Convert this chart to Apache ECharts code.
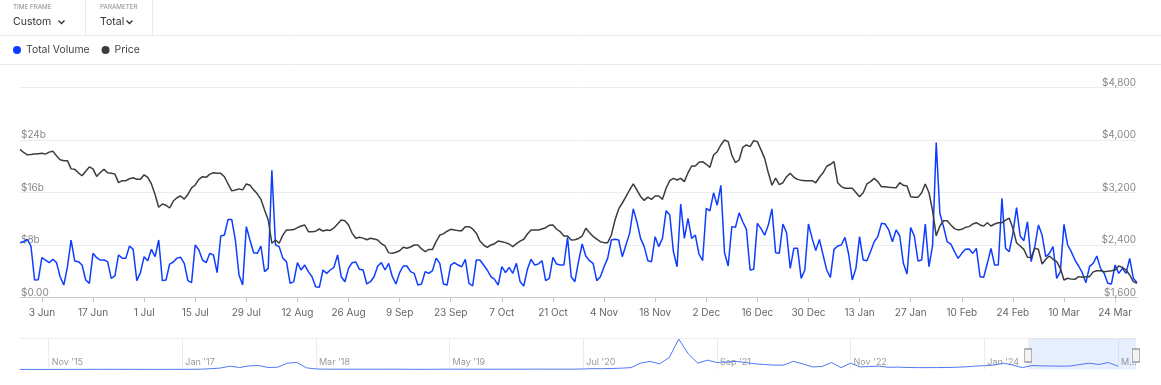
<!DOCTYPE html>
<html>
<head>
<meta charset="utf-8">
<script src="https://cdn.jsdelivr.net/npm/echarts/dist/echarts.min.js"></script>
<style>
html,body{margin:0;padding:0;background:#fff;}
#c{width:1161px;height:385px;}
</style>
</head>
<body>
<div id="c"></div>
<script>
// ---- Data (daily, from 28 May 2024) ----
const startDate = [2024, 4, 28];
const monthNames = ['Jan','Feb','Mar','Apr','May','Jun','Jul','Aug','Sep','Oct','Nov','Dec'];

// Total Volume, $ billions
const volume = [
8.35,8.5,8.87,7.85,2.67,2.7,6.07,5.71,5.31,5.82,
5.31,3.17,1.9,4.69,8.76,5.56,5.46,4.95,2.67,2.16,
6.73,6.07,5.71,5.71,5.46,2.92,3.28,6.48,6.0,6.0,
7.85,7.34,2.57,3.79,6.22,5.61,7.34,6.22,8.76,2.57,
2.67,5.1,5.41,6.0,6.12,5.2,2.57,2.26,8.0,7.24,
5.71,5.31,6.73,6.48,3.79,9.37,9.52,11.9,11.9,8.76,
3.43,1.9,10.8,8.76,6.83,6.73,7.85,3.94,4.44,19.4,
8.0,7.75,6.0,5.46,2.16,2.41,5.31,4.19,4.95,3.94,
3.17,1.65,1.55,4.19,3.68,4.19,4.6,6.48,3.17,2.41,
4.44,5.31,5.41,4.29,4.19,2.06,2.41,3.17,4.8,5.31,
4.19,5.2,3.17,2.06,3.79,
4.8,4.8,3.94,3.68,1.9,2.06,3.94,3.68,4.09,6.0,
5.2,2.06,1.9,4.95,5.31,4.95,4.69,5.81,2.16,1.75,
5.71,5.71,4.95,4.19,3.17,2.77,1.9,4.69,3.79,4.6,
3.68,5.2,2.41,1.75,4.29,5.81,4.95,5.1,5.61,2.57,
2.92,6.12,5.1,4.95,4.95,9.16,3.17,2.41,5.46,8.15,
6.32,5.61,5.2,2.57,3.17,4.69,6.0,8.76,8.86,8.76,
6.22,8.0,9.77,13.5,11.55,9.01,7.75,5.61,5.46,9.27,
7.75,9.01,13.2,12.6,7.0,4.69,14.25,9.01,12.05,9.01,
9.52,6.63,5.61,13.59,13.2,15.95,14.07,17.1,6.83,4.8,
10.8,10.7,12.9,11.55,10.38,4.19,4.29,11.3,10.5,9.5,
11.04,13.5,6.83,6.73,
11.2,9.87,4.44,7.49,7.49,2.92,4.19,11.2,9.01,7.14,
8.86,6.48,4.19,3.07,7.34,7.85,8.0,9.17,6.63,2.67,
4.44,9.27,5.71,5.61,6.98,8.5,9.27,11.3,11.2,10.3,
8.5,10.3,9.37,5.21,3.58,10.64,9.37,5.56,5.71,11.2,
4.7,7.9,23.6,12.8,10.8,8.5,8.15,6.98,5.97,6.73,
7.34,7.39,6.73,7.49,3.17,3.07,5.21,7.49,4.95,4.95,
15.1,7.49,6.98,9.78,13.7,9.37,8.66,11.55,5.46,7.75,
11.05,9.52,6.22,6.73,7.75,2.92,3.94,11.15,8.0,6.98,
5.71,4.8,3.78,2.26,4.7,5.21,6.32,4.44,3.68,2.16,
2.06,4.95,3.68,4.44,3.68,5.97,2.92,2.26
];

// Price, USD
const price = [
3858,3810,3775,3780,3787,3792,3797,3785,3815,3830,
3760,3700,3685,3685,3560,3553,3500,3455,3525,3590,
3560,3445,3505,3553,3500,3492,3480,3350,3380,3380,
3410,3425,3401,3401,3470,3430,3330,3170,2975,3025,
3005,2964,3070,3120,3147,3100,3170,3270,3314,3400,
3441,3431,3480,3500,3492,3492,3440,3330,3225,3238,
3255,3240,3330,3310,3240,3180,3096,2933,2781,2426,
2476,2426,2550,2629,2629,2635,2664,2690,2705,2603,
2603,2610,2644,2613,2629,2622,2660,2720,2781,2771,
2705,2578,2502,2518,2505,2480,2502,2490,2476,2420,
2385,2280,2274,2290,2313,
2365,2350,2370,2400,2400,2340,2300,2333,2333,2451,
2552,2570,2610,2639,2630,2619,2619,2679,2679,2644,
2580,2460,2400,2365,2400,2420,2460,2450,2436,2415,
2375,2420,2460,2487,2568,2629,2629,2629,2644,2664,
2700,2705,2640,2603,2537,2537,2476,2480,2500,2537,
2654,2590,2530,2490,2450,2436,2436,2552,2780,2950,
3040,3136,3238,3330,3238,3140,3080,3130,3096,3147,
3147,3096,3264,3380,3416,3390,3416,3365,3500,3604,
3604,3660,3670,3630,3584,3771,3822,3924,4000,3975,
3771,3654,3695,3889,3924,3898,3990,3975,3850,3720,
3500,3310,3420,3320,
3349,3441,3492,3432,3400,3385,3380,3380,3380,3349,
3432,3500,3600,3630,3669,3350,3290,3264,3264,3264,
3200,3136,3197,3330,3365,3416,3365,3288,3288,3280,
3276,3273,3349,3309,3299,3136,3126,3126,3197,3330,
3200,2920,2540,2690,2770,2770,2705,2650,2630,2639,
2669,2680,2720,2740,2705,2690,2740,2690,2720,2740,
2740,2780,2807,2654,2435,2385,2334,2213,2208,2349,
2334,2110,2182,2233,2182,2146,2045,1867,1893,1880,
1877,1918,1908,1918,1918,1990,2008,2008,1993,2000,
2008,2019,2080,2059,2019,1943,1841,1816
];

// Navigator: monthly total volume history (est.), Aug 2015 .. Mar 2025
const navStart = [2015, 7];
const navMonthsCount = 118; // Aug '15 .. May '25
const navVolume = [
0.1,0.1,0.1,0.1,0.1,0.2,0.2,0.2,0.3,0.3,0.3,0.3,0.2,0.2,0.2,0.2,0.2,0.3,0.3,0.5,
1.2,2.2,5.0,3.0,5.5,6.0,3.0,3.5,9.5,10.5,2.5,0.8,
0.5,0.5,0.4,0.4,0.4,0.4,0.4,0.5,0.4,0.3,0.3,0.3,0.4,0.5,0.5,0.4,0.4,0.4,0.4,0.4,0.5,0.4,0.6,0.5,0.5,0.5,
0.5,0.8,1.2,1.2,1.5,2.0,2.8,9.5,12.2,8.4,17.8,45.6,23.4,9.5,14.0,10.5,11.2,12.2,10.5,
8.4,7.5,6.6,6.6,12.2,8.4,3.9,4.5,10.5,2.8,9.5,3.9,4.5,5.0,
3.3,3.6,3.0,2.8,2.8,2.9,3.0,3.3,3.9,5.0,5.7,6.6,9.5,6.6,2.8,
6.0,5.5,5.2,5.0,5.2,7.5,9.5,7.5,10.5,5.0
];
const navSelection = [105.6, 116.9]; // month index range of selected window

// Axis ticks
const volTicks = {min: 0, max: 32, interval: 8};
const priceTicks = {min: 1600, max: 4800, interval: 800};
const firstLabelIndex = 6;   // 3 Jun
const labelEveryDays = 14;
const navFirstLabel = 3;     // Nov '15
const navLabelEvery = 14;

// ---- Build categories ----
const dates = volume.map((_, i) => {
  const d = new Date(Date.UTC(startDate[0], startDate[1], startDate[2] + i));
  return d.getUTCDate() + ' ' + monthNames[d.getUTCMonth()];
});
const navMonths = [];
for (let i = 0; i < navMonthsCount; i++) {
  const d = new Date(Date.UTC(navStart[0], navStart[1] + i, 1));
  navMonths.push(monthNames[d.getUTCMonth()] + " '" + String(d.getUTCFullYear()).slice(2));
}

const BLUE = '#0f3dff';
const DARK = '#3d3d3d';
const FONT = 'Inter, Roboto, sans-serif';

const chart = echarts.init(document.getElementById('c'), null, {renderer: 'canvas'});
const showDay = (idx) => (idx - firstLabelIndex) % labelEveryDays === 0;
const showNav = (idx) => idx >= navFirstLabel && (idx - navFirstLabel) % navLabelEvery === 0;

const option = {
  animation: false,
  backgroundColor: '#fff',
  textStyle: {fontFamily: FONT},
  legend: {
    data: ['Total Volume', 'Price'],
    left: 13, top: 45, padding: 0,
    icon: 'circle', itemWidth: 8, itemHeight: 8, itemGap: 12,
    textStyle: {fontSize: 10.4, color: '#444', fontFamily: FONT}
  },
  grid: [
    {left: 20, right: 24, top: 87.5, height: 210, outerBoundsMode: 'none', containLabel: false},
    {left: 20, right: 24, top: 338.5, height: 31, outerBoundsMode: 'none', containLabel: false}
  ],
  xAxis: [
    {
      type: 'category', gridIndex: 0, data: dates, boundaryGap: false,
      axisLine: {lineStyle: {color: '#c8c8c8', width: 1}},
      axisTick: {show: true, interval: showDay, length: 5, lineStyle: {color: '#c8c8c8'}},
      axisLabel: {interval: showDay, color: '#666', fontSize: 10, margin: 10, fontFamily: FONT},
      splitLine: {show: false}
    },
    {
      type: 'category', gridIndex: 1, data: navMonths, boundaryGap: false,
      axisLine: {show: false}, axisTick: {show: false},
      axisLabel: {
        inside: true, interval: showNav, color: '#9a9a9a', fontSize: 9, margin: 3,
        align: 'left', padding: [0,0,0,3], fontFamily: FONT,
        formatter: (v, idx) => idx === 115 ? 'M...' : v
      },
      splitLine: {show: true, interval: showNav, lineStyle: {color: '#ececec', width: 1}}
    },
    {
      type: 'value', gridIndex: 1, min: 0, max: navMonthsCount - 1, show: false
    }
  ],
  yAxis: [
    {
      type: 'value', gridIndex: 0, position: 'left',
      min: volTicks.min, max: volTicks.max, interval: volTicks.interval,
      axisLine: {show: false}, axisTick: {show: false},
      axisLabel: {
        inside: true, showMaxLabel: false, verticalAlign: 'bottom', margin: 1,
        color: '#888', fontSize: 10, fontFamily: FONT,
        formatter: (v) => v === 0 ? '$0.00' : '$' + v + 'b'
      },
      splitLine: {show: true, lineStyle: {color: '#ececec', width: 1}}
    },
    {
      type: 'value', gridIndex: 0, position: 'right',
      min: priceTicks.min, max: priceTicks.max, interval: priceTicks.interval,
      axisLine: {show: false}, axisTick: {show: false},
      axisLabel: {
        inside: true, verticalAlign: 'bottom', margin: 1,
        color: '#888', fontSize: 10, fontFamily: FONT,
        formatter: (v) => '$' + v.toLocaleString('en-US')
      },
      splitLine: {show: false}
    },
    {
      type: 'value', gridIndex: 1, min: 0, max: 46.5, show: false
    }
  ],
  series: [
    {
      name: 'Total Volume', type: 'line', xAxisIndex: 0, yAxisIndex: 0,
      data: volume, showSymbol: false, symbol: 'none',
      lineStyle: {color: BLUE, width: 1.5}, itemStyle: {color: BLUE}, z: 2
    },
    {
      name: 'Price', type: 'line', xAxisIndex: 0, yAxisIndex: 1,
      data: price, showSymbol: false, symbol: 'none',
      lineStyle: {color: DARK, width: 1.5}, itemStyle: {color: DARK}, z: 3
    },
    {
      name: 'nav', type: 'line', xAxisIndex: 2, yAxisIndex: 2,
      data: navVolume.map((v, i) => [i, v]), showSymbol: false, symbol: 'none',
      lineStyle: {color: '#5078f5', width: 1}, silent: true,
      markArea: {
        silent: true,
        itemStyle: {color: 'rgba(40,110,255,0.11)'},
        data: [[{xAxis: navSelection[0]}, {xAxis: navSelection[1]}]]
      },
      markPoint: {
        silent: true, symbol: 'rect', symbolSize: [7, 13],
        itemStyle: {color: '#f3f3f3', borderColor: '#9a9a9a', borderWidth: 1},
        label: {show: false},
        data: [{coord: [navSelection[0], 21]}, {coord: [navSelection[1], 21]}]
      }
    }
  ],
  graphic: [
    {type: 'text', left: 13, top: 4, style: {text: 'TIME FRAME', fontSize: 6.3, fill: '#8a8a8a', fontFamily: FONT}},
    {type: 'text', left: 13, top: 16, style: {text: 'Custom', fontSize: 10.5, fill: '#333', fontFamily: FONT}},
    {type: 'polyline', shape: {points: [[58.5, 20.5], [61.5, 23.5], [64.5, 20.5]]}, style: {stroke: '#333', lineWidth: 1.3, fill: null}},
    {type: 'line', shape: {x1: 85.5, y1: 0, x2: 85.5, y2: 35}, style: {stroke: '#ebebeb', lineWidth: 1}},
    {type: 'text', left: 100, top: 4, style: {text: 'PARAMETER', fontSize: 6.3, fill: '#8a8a8a', fontFamily: FONT}},
    {type: 'text', left: 100, top: 16, style: {text: 'Total', fontSize: 10.5, fill: '#333', fontFamily: FONT}},
    {type: 'polyline', shape: {points: [[126.5, 20.5], [129.5, 23.5], [132.5, 20.5]]}, style: {stroke: '#333', lineWidth: 1.3, fill: null}},
    {type: 'line', shape: {x1: 152.5, y1: 0, x2: 152.5, y2: 35}, style: {stroke: '#ebebeb', lineWidth: 1}},
    {type: 'line', shape: {x1: 0, y1: 35.5, x2: 1161, y2: 35.5}, style: {stroke: '#ebebeb', lineWidth: 1}},
    {type: 'line', shape: {x1: 0, y1: 64.5, x2: 1161, y2: 64.5}, style: {stroke: '#ebebeb', lineWidth: 1}},
    {type: 'line', shape: {x1: 20, y1: 338.5, x2: 1137, y2: 338.5}, style: {stroke: '#eeeeee', lineWidth: 1}}
  ]
};
chart.setOption(option);
</script>
</body>
</html>
